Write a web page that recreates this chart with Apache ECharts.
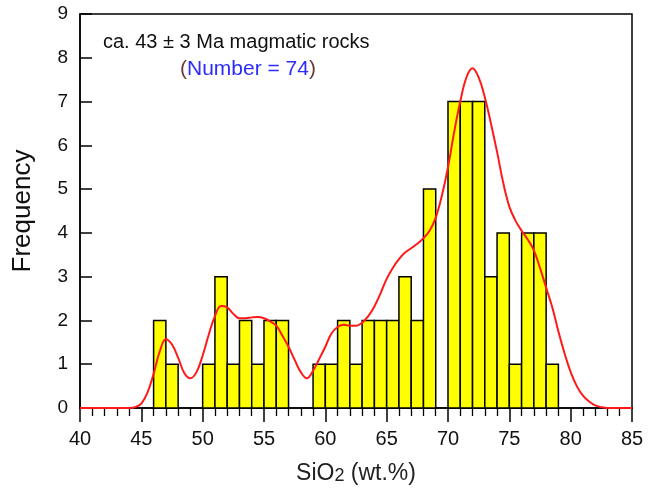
<!DOCTYPE html>
<html>
<head>
<meta charset="utf-8">
<script src="https://cdn.jsdelivr.net/npm/echarts@6/dist/echarts.min.js"></script>
<style>
  html, body { margin: 0; padding: 0; background: #fff; }
  #main { width: 651px; height: 490px; }
</style>
</head>
<body>
<div id="main"></div>
<script>
// histogram bins (SiO2 lower edge, bin width 1) and counts
var binStart = [46, 47, 50, 51, 52, 53, 54, 55, 56, 59, 60, 61, 62, 63, 64, 65, 66, 67, 68, 70, 71, 72, 73, 74, 75, 76, 77, 78];
var binCount = [2, 1, 1, 3, 1, 2, 1, 2, 2, 1, 1, 2, 1, 2, 2, 2, 3, 2, 5, 7, 7, 7, 3, 4, 1, 4, 4, 1];
var binWidth = 1;

// density curve
var curveX = [40, 43, 44, 44.5, 45, 45.5, 46, 46.5, 47, 47.5, 48, 48.5, 49, 49.5, 50, 50.5, 51, 51.5, 52, 52.5,
  53, 53.5, 54, 54.5, 55, 55.5, 56, 56.5, 57, 57.5, 58, 58.5, 59, 59.5, 60, 60.5, 61, 61.5, 62, 62.5,
  63, 63.5, 64, 64.5, 65, 65.5, 66, 66.5, 67, 67.5, 68, 68.5, 69, 69.5, 70, 70.5, 71, 71.5, 72, 72.5,
  73, 73.5, 74, 74.5, 75, 75.5, 76, 76.5, 77, 77.5, 78, 78.5, 79, 79.5, 80, 80.5, 81, 81.5, 82, 82.5, 83, 85];
var curveY = [0, 0, 0, 0.02, 0.1, 0.35, 0.78, 1.29, 1.57, 1.45, 1.15, 0.8, 0.68, 0.82, 1.2, 1.68, 2.1, 2.33, 2.3, 2.15,
  2.05, 2.05, 2.07, 2.08, 2.05, 1.98, 1.88, 1.65, 1.4, 1.1, 0.82, 0.68, 0.85, 1.12, 1.4, 1.7, 1.85, 1.9, 1.88, 1.88,
  1.95, 2.1, 2.32, 2.62, 2.95, 3.2, 3.4, 3.55, 3.65, 3.75, 3.88, 4.05, 4.35, 4.85, 5.5, 6.3, 7.0, 7.55, 7.76, 7.55,
  7.1, 6.5, 5.85, 5.15, 4.6, 4.28, 4.05, 3.85, 3.6, 3.2, 2.75, 2.3, 1.75, 1.25, 0.82, 0.5, 0.28, 0.15, 0.06, 0.02, 0, 0];

var xTicks = [40, 45, 50, 55, 60, 65, 70, 75, 80, 85];
var yTicks = [0, 1, 2, 3, 4, 5, 6, 7, 8, 9];

var bars = binStart.map(function (s, i) { return [s, s + binWidth, binCount[i]]; });
var curve = curveX.map(function (x, i) { return [x, curveY[i]]; });

var chart = echarts.init(document.getElementById('main'));
var font = 'Liberation Sans, Arial, sans-serif';

chart.setOption({
  animation: false,
  grid: {
    left: 80, right: 19, top: 14, bottom: 80,
    show: true, borderColor: '#000', borderWidth: 1.5, backgroundColor: 'transparent'
  },
  xAxis: {
    type: 'value',
    min: xTicks[0], max: xTicks[xTicks.length - 1], interval: 5,
    axisLine: { lineStyle: { color: '#000', width: 1.5 } },
    axisTick: { show: true, length: 14, lineStyle: { color: '#000', width: 1.5 } },
    minorTick: { show: true, splitNumber: 5, length: 8, lineStyle: { color: '#000', width: 1.3 } },
    splitLine: { show: false },
    axisLabel: { color: '#111', fontSize: 20, fontFamily: font, margin: 21 },
    name: '{a|SiO}{b|2}{a| (wt.%)}',
    nameLocation: 'middle',
    nameGap: 54,
    nameTextStyle: {
      rich: {
        a: { fontSize: 23, color: '#222', fontFamily: font },
        b: { fontSize: 18, color: '#222', fontFamily: font, padding: [5, 0, 0, 0] }
      }
    }
  },
  yAxis: {
    type: 'value',
    min: yTicks[0], max: yTicks[yTicks.length - 1], interval: 1,
    axisLine: { show: true, lineStyle: { color: '#000', width: 1.5 } },
    axisTick: { show: true, inside: true, length: 12, lineStyle: { color: '#000', width: 1.5 } },
    splitLine: { show: false },
    axisLabel: { color: '#111', fontSize: 19, fontFamily: font, margin: 12 },
    name: 'Frequency',
    nameLocation: 'middle',
    nameGap: 44,
    nameTextStyle: { fontSize: 26, color: '#111', fontFamily: font }
  },
  graphic: [
    {
      type: 'text', left: 103, top: 32,
      style: { text: 'ca. 43 ± 3 Ma magmatic rocks', fontSize: 20, fill: '#111', fontFamily: font }
    },
    {
      type: 'text', left: 180, top: 59,
      style: {
        text: '{p|(}{n|Number = 74}{p|)}',
        fontFamily: font,
        rich: {
          p: { fontSize: 21, fill: '#6b3a3a', fontFamily: font },
          n: { fontSize: 21, fill: '#2b2bff', fontFamily: font }
        }
      }
    }
  ],
  series: [
    {
      type: 'custom',
      data: bars,
      renderItem: function (params, api) {
        var p0 = api.coord([api.value(0), api.value(2)]);
        var p1 = api.coord([api.value(1), 0]);
        return {
          type: 'rect',
          shape: { x: p0[0], y: p0[1], width: p1[0] - p0[0], height: p1[1] - p0[1] },
          style: { fill: '#ffff00', stroke: '#000', lineWidth: 1.5 }
        };
      },
      encode: { x: [0, 1], y: 2 },
      z: 2
    },
    {
      type: 'line',
      data: curve,
      smooth: 0.4,
      showSymbol: false,
      lineStyle: { color: '#ff1a1a', width: 2 },
      z: 3
    }
  ]
});
</script>
</body>
</html>
